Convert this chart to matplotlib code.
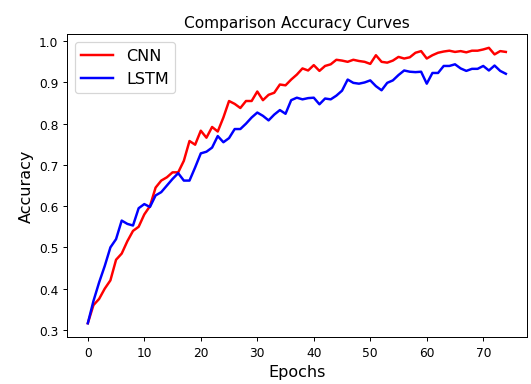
import matplotlib
matplotlib.use("Agg")
import matplotlib.pyplot as plt
import numpy as np

epochs = list(range(75))
cnn_acc = [0.316, 0.36, 0.375, 0.40, 0.42, 0.47, 0.485, 0.515, 0.54, 0.55,
           0.58, 0.60, 0.645, 0.662, 0.67, 0.682, 0.682, 0.71, 0.758, 0.749,
           0.783, 0.766, 0.792, 0.781, 0.815, 0.855, 0.848, 0.838, 0.855, 0.855,
           0.878, 0.857, 0.870, 0.875, 0.895, 0.893, 0.907, 0.919, 0.934, 0.929,
           0.942, 0.928, 0.940, 0.944, 0.955, 0.953, 0.950, 0.955, 0.952, 0.950,
           0.945, 0.966, 0.950, 0.948, 0.953, 0.962, 0.958, 0.961, 0.972, 0.976,
           0.958, 0.966, 0.972, 0.975, 0.977, 0.974, 0.976, 0.973, 0.977, 0.977,
           0.980, 0.984, 0.968, 0.976, 0.974]
lstm_acc = [0.316, 0.37, 0.415, 0.455, 0.50, 0.52, 0.565, 0.557, 0.553, 0.595,
            0.605, 0.598, 0.626, 0.634, 0.650, 0.666, 0.680, 0.662, 0.662, 0.694,
            0.728, 0.732, 0.742, 0.770, 0.755, 0.765, 0.787, 0.787, 0.800, 0.815,
            0.827, 0.819, 0.808, 0.822, 0.833, 0.824, 0.857, 0.863, 0.859, 0.862,
            0.863, 0.847, 0.861, 0.859, 0.868, 0.880, 0.907, 0.899, 0.897, 0.900,
            0.905, 0.891, 0.881, 0.899, 0.905, 0.918, 0.929, 0.926, 0.925, 0.926,
            0.897, 0.923, 0.923, 0.940, 0.940, 0.944, 0.934, 0.928, 0.933, 0.933,
            0.940, 0.929, 0.941, 0.928, 0.921]

dpi = 88.5
fig = plt.figure(figsize=(531 / dpi, 385 / dpi), dpi=dpi)
ax = fig.add_axes([0.126, 0.122, 0.866, 0.787])

ax.plot(epochs, cnn_acc, color="red", linewidth=2, label="CNN")
ax.plot(epochs, lstm_acc, color="blue", linewidth=2, label="LSTM")

ax.set_title("Comparison Accuracy Curves", fontsize=12.5)
ax.set_xlabel("Epochs", fontsize=13)
ax.set_ylabel("Accuracy", fontsize=13)
ax.tick_params(labelsize=10)
ax.legend(loc="upper left", fontsize=13)

fig.savefig("out.png", dpi=dpi)
